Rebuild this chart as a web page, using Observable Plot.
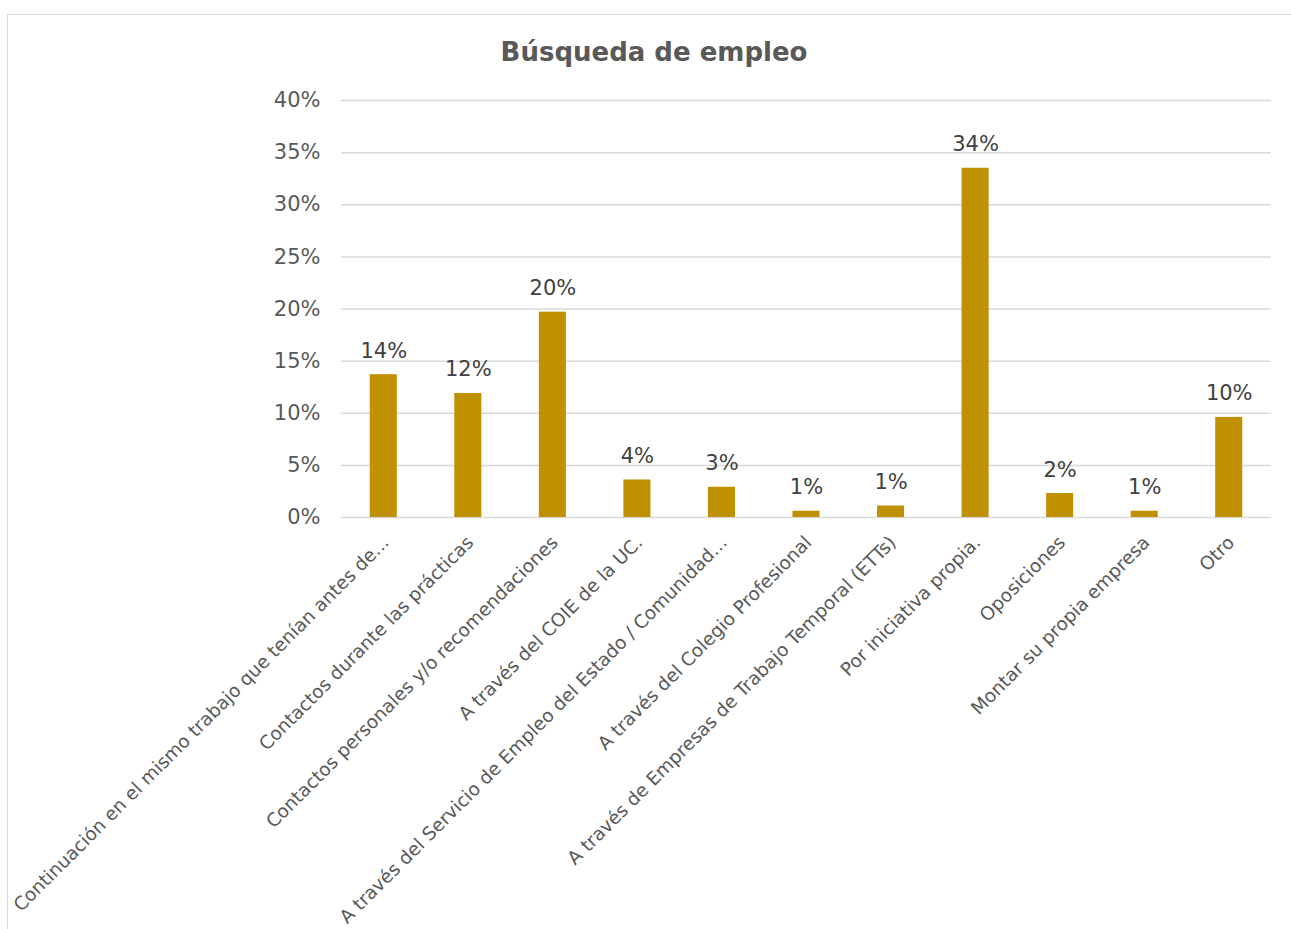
<!DOCTYPE html>
<html>
<head>
<meta charset="utf-8">
<script src="https://cdn.jsdelivr.net/npm/d3@7"></script>
<script src="https://cdn.jsdelivr.net/npm/@observablehq/plot@0.6"></script>
<style>
  html, body { margin: 0; padding: 0; background: #fff; }
  body { width: 1291px; height: 929px; position: relative; overflow: hidden; font-family: "DejaVu Sans", Verdana, sans-serif; }
  #frame { position: absolute; left: 7px; top: 14px; width: 1300px; height: 940px; border: 1.5px solid #d9d9d9; box-sizing: border-box; }
  #title { position: absolute; left: 0; width: 1308px; top: 36px; text-align: center; font-size: 26px; line-height: 32px; font-weight: bold; color: #595959; }
  #chart { position: absolute; left: 0; top: 80px; }
</style>
</head>
<body>
<div id="frame"></div>
<div id="title">Búsqueda de empleo</div>
<div id="chart"></div>
<script>
const categories = [
  "Continuación en el mismo trabajo que tenían antes de...",
  "Contactos durante las prácticas",
  "Contactos personales y/o recomendaciones",
  "A través del COIE de la UC.",
  "A través del Servicio de Empleo del Estado / Comunidad...",
  "A través del Colegio Profesional",
  "A través de Empresas de Trabajo Temporal (ETTs)",
  "Por iniciativa propia.",
  "Oposiciones",
  "Montar su propia empresa",
  "Otro"
];
const values = [0.137, 0.119, 0.197, 0.036, 0.029, 0.006, 0.011, 0.335, 0.023, 0.006, 0.096];
const yTicks = [0, 0.05, 0.10, 0.15, 0.20, 0.25, 0.30, 0.35, 0.40];

const data = categories.map((c, i) => ({cat: c, value: values[i]}));
const pct = d3.format(".0%");

const chart = Plot.plot({
  width: 1291,
  height: 849,
  marginTop: 20,
  marginBottom: 412,
  marginLeft: 341,
  marginRight: 20,
  style: {fontFamily: "'DejaVu Sans', Verdana, sans-serif", background: "transparent", color: "#595959"},
  x: {domain: categories, paddingInner: 0.68, paddingOuter: 0.34, round: false, label: null},
  y: {domain: [0, 0.4], label: null},
  marks: [
    Plot.gridY(yTicks, {stroke: "#d9d9d9", strokeOpacity: 1, strokeWidth: 1.5}),
    Plot.barY(data, {x: "cat", y: "value", fill: "#BF9000"}),
    Plot.text(data, {x: "cat", y: "value", text: d => pct(d.value), dy: -17, lineAnchor: "bottom", fontSize: 21, fill: "#404040"}),
    Plot.axisY({ticks: yTicks, tickFormat: pct, tickSize: 0, tickPadding: 21, fontSize: 21, fill: "#595959", label: null}),
    Plot.axisX({tickSize: 0, tickRotate: -45, tickPadding: 22, dx: 2, fontSize: 18.5, fill: "#595959", label: null})
  ]
});
document.getElementById("chart").appendChild(chart);
</script>
</body>
</html>
